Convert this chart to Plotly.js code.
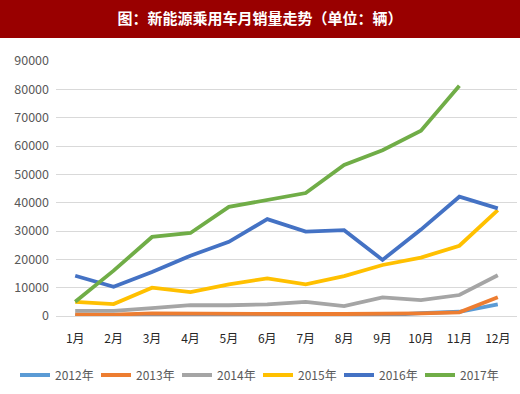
<!DOCTYPE html>
<html>
<head>
<meta charset="utf-8">
<script src="https://cdn.plot.ly/plotly-3.0.1.min.js"></script>
<style>html,body{margin:0;padding:0;background:#fff;}#chart{width:520px;height:394px;}</style>
</head>
<body>
<div id="chart"></div>
<script>
const months = ["1月","2月","3月","4月","5月","6月","7月","8月","9月","10月","11月","12月"];
const seriesNames = ["2012年","2013年","2014年","2015年","2016年","2017年"];
const s2012 = [200, 200, 300, 500, 400, 400, 200, 200, 200, 1000, 1500, 4100];
const s2013 = [600, 500, 900, 800, 900, 500, 700, 700, 700, 900, 1300, 6600];
const s2014 = [1800, 1800, 2800, 3800, 3800, 4100, 5000, 3500, 6600, 5600, 7400, 14400];
const s2015 = [5000, 4200, 10000, 8400, 11200, 13300, 11200, 14100, 18000, 20600, 24800, 37400];
const s2016 = [14200, 10300, 15500, 21300, 26200, 34200, 29800, 30300, 19800, 30500, 42100, 38000];
const s2017 = [5000, 16000, 27900, 29300, 38500, 41000, 43400, 53300, 58500, 65400, 81300, null];
const yTicks = [0,10000,20000,30000,40000,50000,60000,70000,80000,90000];
const colors = ["#5B9BD5","#ED7D31","#A5A5A5","#FFC000","#4472C4","#70AD47"];
const allSeries = [s2012, s2013, s2014, s2015, s2016, s2017];

const font = "'Noto Sans CJK SC', 'Noto Sans', sans-serif";
const traces = allSeries.map((s, i) => ({
  type: "scatter", mode: "lines", name: seriesNames[i], x: months, y: s,
  line: {color: colors[i], width: 3.8}, connectgaps: false
}));

const layout = {
  width: 520, height: 394,
  margin: {l: 56, r: 3, t: 61, b: 78, autoexpand: false},
  paper_bgcolor: "#fff", plot_bgcolor: "#fff",
  showlegend: true,
  title: {text: "<b>图：新能源乘用车月销量走势（单位：辆）</b>", font: {family: font, size: 15, color: "#fff"},
    x: 0.5, xanchor: "center", y: 1 - 19/394, yanchor: "middle", xref: "container", yref: "container"},
  shapes: [{type: "rect", xref: "paper", yref: "paper", x0: -56/461, x1: 464/461, y0: (316-38)/255, y1: 316/255,
    fillcolor: "#990000", line: {width: 0}, layer: "below"}],
  xaxis: {type: "category", range: [-0.5, 11.5], showgrid: false, zeroline: false, showline: false,
    ticks: "", tickfont: {family: font, size: 12, color: "#262626"}, ticklabelstandoff: 14, fixedrange: true},
  yaxis: {range: [0, 90000], tickvals: yTicks, ticktext: yTicks.map(String), gridcolor: "#D9D9D9", gridwidth: 1,
    zeroline: true, zerolinecolor: "#D9D9D9", zerolinewidth: 1, showline: false, ticks: "",
    tickfont: {family: font, size: 12.5, color: "#595959"}, ticklabelstandoff: 6, fixedrange: true},
  legend: {orientation: "h", x: (15-56)/461, xanchor: "left", xref: "paper", y: (316-375)/255, yanchor: "middle", yref: "paper",
    font: {family: font, size: 12, color: "#595959"}, entrywidth: 36, entrywidthmode: "pixels", itemwidth: 30,
    traceorder: "normal", tracegroupgap: 0}
};
Plotly.newPlot("chart", traces, layout, {displayModeBar: false, staticPlot: true});
</script>
</body>
</html>
